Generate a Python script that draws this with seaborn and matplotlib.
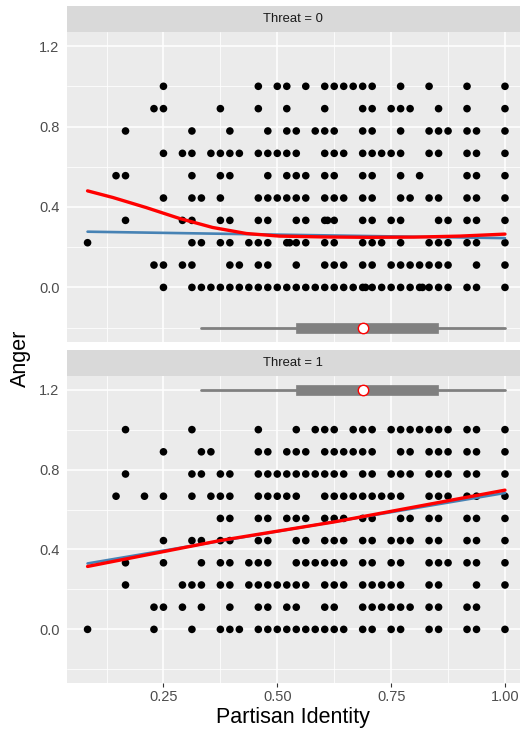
import matplotlib
matplotlib.use("Agg")
import matplotlib.pyplot as plt
import seaborn as sns
import pandas as pd

# Raw scores: partisan identity summed on a 0-48 scale, anger on a 0-9 scale.
IDENTITY_MAX = 48
ANGER_MAX = 9

# Threat = 0: identity scores observed at each anger level
threat0_anger9 = [12, 22, 24, 25, 27, 29, 30, 31, 32, 33, 34, 37, 40, 44, 48]
threat0_anger8 = [11, 12, 18, 22, 25, 29, 33, 34, 36, 37, 38, 41, 44, 48]
threat0_anger7 = [8, 15, 19, 23, 25, 26, 28, 29, 30, 33, 34, 37, 40, 41, 42, 44, 45, 48]
threat0_anger6 = [12, 14, 15, 17, 18, 19, 20, 22, 23, 24, 25, 26, 29, 30, 31, 33, 34,
                  35, 36, 37, 40, 41, 44, 45, 48]
threat0_anger5 = [7, 8, 15, 18, 19, 23, 25, 26, 27, 29, 30, 33, 34, 37, 39, 44, 45, 48]
threat0_anger4 = [12, 15, 16, 18, 22, 23, 24, 25, 26, 27, 29, 30, 31, 33, 34, 37, 38,
                  40, 41, 44, 45, 48]
threat0_anger3 = [8, 14, 15, 18, 19, 22, 23, 26, 27, 29, 29.3, 30, 33, 34, 36, 37, 41,
                  42, 44, 45, 48]
threat0_anger2 = [4, 15, 16, 18, 19, 21, 22, 23, 25, 25.3, 26, 27, 29, 30, 33, 34, 35,
                  37, 40, 41, 42, 44, 45, 48]
threat0_anger1 = [11, 12, 14, 15, 19, 20, 22, 23, 26, 29, 30, 31, 33, 34, 36, 37, 38,
                  39, 40, 41, 42, 45, 48]
threat0_anger0 = [12, 15, 16, 17, 18, 19, 20, 21, 22, 23, 24, 25, 26, 27, 28, 29, 30,
                  31, 32, 33, 33.3, 34, 35, 36, 37, 38, 39, 39.3, 40, 41, 42, 44, 45, 48]

# Threat = 1: identity scores observed at each anger level
threat1_anger9 = [8, 15, 22, 26, 28, 29, 30, 32, 33, 34, 36, 37, 38, 39, 40, 41, 42,
                  44, 45, 48]
threat1_anger8 = [12, 16, 17, 22, 23, 25, 26, 27, 29, 30, 31, 32, 33, 34, 37, 38, 40,
                  41, 42, 44, 45, 48]
threat1_anger7 = [8, 15, 16, 18, 19, 22, 23, 24, 25, 26, 27, 28, 29, 30, 31, 33, 34,
                  36, 37, 38, 40, 41, 42, 44, 45, 48]
threat1_anger6 = [7, 10, 12, 15, 17, 18, 19, 22, 23, 24, 25, 26, 29, 30, 31, 32, 33,
                  34, 35, 36, 37, 40, 41, 42, 44, 45, 48]
threat1_anger5 = [18, 19, 22, 23, 25, 26, 27, 29, 30, 31, 33, 34, 37, 38, 40, 41, 44,
                  45, 48]
threat1_anger4 = [12, 15, 16, 18, 19, 22, 23, 26, 27, 29, 30, 31, 33, 34, 36, 37, 38,
                  40, 41, 44, 45, 48]
threat1_anger3 = [8, 12, 16, 18, 19, 21, 22, 23, 26, 27, 28, 29, 30, 31, 33, 34, 36,
                  37, 40, 41, 42, 44, 45, 48]
threat1_anger2 = [8, 14, 15, 16, 18, 19, 21, 22, 23, 24, 25, 26, 27, 29, 30, 31, 33,
                  34, 35, 36, 37, 40, 41, 45, 48]
threat1_anger1 = [11, 12, 14, 16, 19, 22, 23, 25, 26, 29, 30, 33, 34, 35, 36, 37, 38,
                  40, 41, 44, 45]
threat1_anger0 = [4, 11, 15, 18, 19, 20, 22, 23, 24, 25, 26, 27, 28, 29, 30, 31, 33,
                  34, 36, 37, 40, 41, 44, 45, 48]

threat0_rows = [threat0_anger0, threat0_anger1, threat0_anger2, threat0_anger3,
                threat0_anger4, threat0_anger5, threat0_anger6, threat0_anger7,
                threat0_anger8, threat0_anger9]
threat1_rows = [threat1_anger0, threat1_anger1, threat1_anger2, threat1_anger3,
                threat1_anger4, threat1_anger5, threat1_anger6, threat1_anger7,
                threat1_anger8, threat1_anger9]

# Fitted curves: linear fit (blue) and local smoother (red), per panel
linear0_x = [0.0833, 1.0]
linear0_y = [0.277, 0.245]
smooth0_x = [0.0833, 0.139, 0.212, 0.285, 0.358, 0.432, 0.505, 0.60, 0.70, 0.80,
             0.90, 1.0]
smooth0_y = [0.480, 0.447, 0.397, 0.343, 0.298, 0.268, 0.255, 0.251, 0.249, 0.250,
             0.255, 0.265]
linear1_x = [0.0833, 1.0]
linear1_y = [0.330, 0.683]
smooth1_x = [0.0833, 0.375, 0.625, 1.0]
smooth1_y = [0.315, 0.445, 0.538, 0.697]

# Distribution of partisan identity (all respondents)
identity_box = dict(whislo=0.333, q1=0.542, med=0.6875, q3=0.854, whishi=1.0)
box_y = {0: -0.2, 1: 1.2}

y_ticks = [0.0, 0.4, 0.8, 1.2]
y_tick_labels = ["0.0", "0.4", "0.8", "1.2"]
x_ticks = [0.25, 0.5, 0.75, 1.0]
x_tick_labels = ["0.25", "0.50", "0.75", "1.00"]

frames = []
for threat, rows in ((0, threat0_rows), (1, threat1_rows)):
    for level, scores in enumerate(rows):
        for s in scores:
            frames.append((threat, s / IDENTITY_MAX, level / ANGER_MAX))
df = pd.DataFrame(frames, columns=["Threat", "Partisan Identity", "Anger"])

sns.set_theme(style="darkgrid")
plt.rcParams["font.family"] = ["Liberation Sans", "DejaVu Sans"]

W, H, DPI = 520, 734, 100
fig = plt.figure(figsize=(W / DPI, H / DPI), dpi=DPI, facecolor="white")

left = 66.7 / W
width = 1 - left
panels = {0: (32.0, 341.7, 6.0), 1: (375.7, 683.3, 350.0)}
fits = {0: (linear0_x, linear0_y, smooth0_x, smooth0_y),
        1: (linear1_x, linear1_y, smooth1_x, smooth1_y)}

xlim = (0.0375, (W - 50.3) / 454.7)
ylim = (-0.27, 1.27)

for threat, (top, bottom, strip_top) in panels.items():
    ax = fig.add_axes([left, 1 - bottom / H, width, (bottom - top) / H])
    ax.set_facecolor("#EBEBEB")
    for s in ax.spines.values():
        s.set_visible(False)

    sub = df[df["Threat"] == threat]
    sns.scatterplot(data=sub, x="Partisan Identity", y="Anger", ax=ax, color="black",
                    s=30, edgecolor="none", linewidth=0, zorder=2)

    # horizontal boxplot of identity
    yb = box_y[threat]
    ax.bxp([dict(identity_box, fliers=[])], positions=[yb], orientation="horizontal",
           widths=0.05, showcaps=False, patch_artist=True, showfliers=False,
           manage_ticks=False,
           boxprops=dict(facecolor="#808080", edgecolor="#808080", linewidth=0.5),
           whiskerprops=dict(color="#808080", linewidth=2.0),
           medianprops=dict(color="#808080", linewidth=0))
    ax.plot([identity_box["med"]], [yb], marker="o", markersize=7.5,
            markerfacecolor="white", markeredgecolor="red", markeredgewidth=1.0,
            zorder=5)

    lx, ly, sx, sy = fits[threat]
    sns.lineplot(x=lx, y=ly, ax=ax, color="#4682B4", linewidth=1.9, zorder=3,
                 sort=False, estimator=None)
    sns.lineplot(x=sx, y=sy, ax=ax, color="red", linewidth=2.4, zorder=4,
                 sort=False, estimator=None)
    ax.set_xlabel("")
    ax.set_ylabel("")

    ax.set_xlim(*xlim)
    ax.set_ylim(*ylim)
    ax.set_xticks(x_ticks)
    ax.set_xticks([0.125, 0.375, 0.625, 0.875], minor=True)
    ax.set_xticklabels(x_tick_labels)
    ax.set_yticks(y_ticks)
    ax.set_yticks([-0.2, 0.2, 0.6, 1.0], minor=True)
    ax.set_yticklabels(y_tick_labels)
    ax.grid(which="major", color="white", linewidth=1.1)
    ax.grid(which="minor", color="white", linewidth=0.55)
    ax.set_axisbelow(True)
    ax.tick_params(axis="both", which="major", length=2.6, width=0.8, color="#333333",
                   labelsize=10.5, labelcolor="#4D4D4D", pad=2.5)
    ax.tick_params(axis="both", which="minor", length=0)
    ax.tick_params(axis="x", bottom=(threat == 1), labelbottom=(threat == 1))

    # facet strip
    sax = fig.add_axes([left, 1 - top / H, width, (top - strip_top) / H])
    sax.set_facecolor("#D9D9D9")
    sax.set_xticks([])
    sax.set_yticks([])
    for s in sax.spines.values():
        s.set_visible(False)
    sax.text(0.5, 0.5, f"Threat = {threat}", ha="center", va="center",
             fontsize=9.4, color="#1A1A1A", transform=sax.transAxes)

fig.text(0.5 * (left + 1), 1 - 718 / H, "Partisan Identity", ha="center",
         va="center", fontsize=15.5, color="black")
fig.text(20 / W, 1 - 358 / H, "Anger", ha="center", va="center", rotation=90,
         fontsize=15.5, color="black")

fig.savefig("out.png", dpi=DPI, facecolor="white")
